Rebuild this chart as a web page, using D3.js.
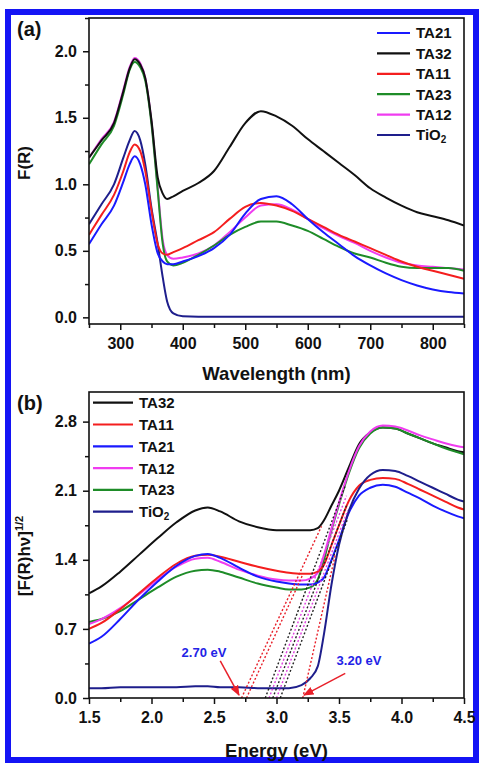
<!doctype html>
<html>
<meta charset="utf-8">
<style>
body {
  margin: 0;
  padding: 0;
  background: #fff;
}
text {
  font-family: 'Liberation Sans', Arial, sans-serif;
  font-weight: bold;
  fill: #111;
}
</style>
<body>
<svg width="479" height="763"></svg>
<script src="https://cdnjs.cloudflare.com/ajax/libs/d3/7.8.5/d3.min.js"></script>
<script>

// ---- panel (a): F(R) vs wavelength ----
var wavelength = [250, 270, 290, 305, 315, 323, 332, 340, 350, 360, 368, 375, 385, 400, 425, 450,
                  475, 500, 525, 550, 575, 600, 625, 650, 675, 700, 725, 750, 775, 800, 825, 850];
var frTA21 = [0.55, 0.70, 0.84, 1.02, 1.15, 1.21, 1.15, 1.00, 0.70, 0.48, 0.42, 0.40, 0.40, 0.42, 0.46, 0.52,
              0.62, 0.78, 0.89, 0.91, 0.85, 0.74, 0.64, 0.55, 0.46, 0.39, 0.33, 0.28, 0.24, 0.21, 0.19, 0.18];
var frTA32 = [1.20, 1.33, 1.46, 1.70, 1.87, 1.94, 1.90, 1.80, 1.48, 1.05, 0.93, 0.89, 0.91, 0.95, 1.01, 1.10,
              1.28, 1.46, 1.55, 1.51, 1.44, 1.34, 1.25, 1.16, 1.07, 0.97, 0.90, 0.84, 0.79, 0.76, 0.73, 0.69];
var frTA11 = [0.62, 0.77, 0.92, 1.10, 1.24, 1.30, 1.25, 1.10, 0.80, 0.55, 0.48, 0.47, 0.49, 0.52, 0.58, 0.64,
              0.74, 0.83, 0.86, 0.84, 0.80, 0.74, 0.68, 0.62, 0.57, 0.52, 0.47, 0.42, 0.38, 0.35, 0.32, 0.29];
var frTA23 = [1.15, 1.30, 1.44, 1.68, 1.86, 1.92, 1.88, 1.78, 1.45, 0.95, 0.55, 0.42, 0.39, 0.41, 0.47, 0.54,
              0.62, 0.68, 0.72, 0.72, 0.69, 0.65, 0.59, 0.53, 0.48, 0.45, 0.41, 0.38, 0.37, 0.37, 0.37, 0.35];
var frTA12 = [1.20, 1.34, 1.47, 1.71, 1.88, 1.95, 1.91, 1.80, 1.47, 0.97, 0.58, 0.47, 0.44, 0.45, 0.48, 0.54,
              0.64, 0.75, 0.84, 0.85, 0.81, 0.74, 0.67, 0.61, 0.56, 0.50, 0.45, 0.41, 0.39, 0.38, 0.37, 0.36];
var frTiO2 = [0.70, 0.85, 1.00, 1.20, 1.33, 1.40, 1.33, 1.15, 0.82, 0.55, 0.30, 0.12, 0.03, 0.008, 0.005, 0.005,
              0.005, 0.005, 0.005, 0.005, 0.005, 0.005, 0.005, 0.005, 0.005, 0.005, 0.005, 0.005, 0.005, 0.005, 0.005, 0.005];

// ---- panel (b): Tauc plot ----
var energy = [1.5, 1.6, 1.75, 1.9, 2.05, 2.2, 2.35, 2.45, 2.55, 2.7, 2.85, 3.0, 3.1, 3.2, 3.27,
              3.33, 3.38, 3.44, 3.5, 3.58, 3.66, 3.75, 3.85, 3.95, 4.05, 4.15, 4.25, 4.35, 4.45, 4.5];
var tcTA32 = [1.06, 1.13, 1.28, 1.45, 1.62, 1.78, 1.90, 1.93, 1.89, 1.79, 1.73, 1.70, 1.70, 1.70, 1.70,
              1.72, 1.80, 1.95, 2.10, 2.34, 2.57, 2.69, 2.74, 2.73, 2.68, 2.63, 2.58, 2.54, 2.50, 2.49];
var tcTA11 = [0.70, 0.76, 0.90, 1.06, 1.22, 1.36, 1.44, 1.45, 1.43, 1.38, 1.33, 1.29, 1.27, 1.26, 1.26,
              1.28, 1.35, 1.55, 1.75, 2.00, 2.15, 2.21, 2.23, 2.22, 2.17, 2.11, 2.05, 1.99, 1.93, 1.91];
var tcTA21 = [0.55, 0.62, 0.80, 1.00, 1.18, 1.34, 1.44, 1.46, 1.42, 1.32, 1.23, 1.18, 1.16, 1.15, 1.15,
              1.17, 1.22, 1.40, 1.60, 1.88, 2.05, 2.13, 2.16, 2.14, 2.08, 2.02, 1.95, 1.89, 1.84, 1.82];
var tcTA12 = [0.75, 0.80, 0.91, 1.05, 1.20, 1.33, 1.41, 1.42, 1.38, 1.30, 1.24, 1.20, 1.19, 1.19, 1.21,
              1.27, 1.45, 1.72, 1.98, 2.30, 2.55, 2.70, 2.76, 2.75, 2.71, 2.66, 2.62, 2.58, 2.55, 2.54];
var tcTA23 = [0.77, 0.80, 0.88, 1.00, 1.12, 1.23, 1.29, 1.30, 1.28, 1.22, 1.16, 1.12, 1.10, 1.10, 1.12,
              1.20, 1.40, 1.70, 1.96, 2.28, 2.53, 2.68, 2.74, 2.73, 2.68, 2.63, 2.58, 2.53, 2.49, 2.47];
var tcTiO2 = [0.10, 0.10, 0.11, 0.11, 0.11, 0.11, 0.12, 0.12, 0.11, 0.11, 0.10, 0.10, 0.10, 0.13, 0.20,
              0.32, 0.65, 1.15, 1.55, 1.90, 2.12, 2.26, 2.31, 2.30, 2.25, 2.19, 2.13, 2.07, 2.01, 1.99];

// tangent lines: x-intercept, end energy, end value
var tangentStart = [2.72, 2.76, 2.91, 2.94, 2.97, 3.00, 3.03, 3.21];
var tangentEndE  = [3.36, 3.21, 3.55, 3.56, 3.56, 3.57, 3.57, 3.47];
var tangentEndV  = [1.74, 1.25, 2.15, 2.05, 1.95, 1.90, 1.82, 1.45];
var tangentColor = ["#e8202a", "#e8202a", "#222", "#e040e0", "#222", "#e040e0", "#222", "#e8202a"];

// band-gap labels and arrows
var gapLabels = ["2.70 eV", "3.20 eV"];
var gapLabelE = [2.42, 3.66];
var gapLabelV = [0.46, 0.385];
var arrowFromE = [2.55, 3.55];
var arrowFromV = [0.375, 0.25];
var arrowToE = [2.70, 3.22];
var arrowToV = [0.03, 0.03];

// ticks
var wlTicks = [300, 400, 500, 600, 700, 800];
var wlMinor = [250, 350, 450, 550, 650, 750, 850];
var frTicks = [0.0, 0.5, 1.0, 1.5, 2.0];
var frMinor = [0.25, 0.75, 1.25, 1.75, 2.25];
var eTicks = [1.5, 2.0, 2.5, 3.0, 3.5, 4.0, 4.5];
var eMinor = [1.75, 2.25, 2.75, 3.25, 3.75, 4.25];
var tcTicks = [0.0, 0.7, 1.4, 2.1, 2.8];
var tcMinor = [0.35, 1.05, 1.75, 2.45];

var col = {
  TA21: "#1a1aff",
  TA32: "#111111",
  TA11: "#f41e1e",
  TA23: "#1e8c28",
  TA12: "#f03cf0",
  TiO2: "#1e1e8c"
};

var svg = d3.select("svg");

// outer blue frame
svg.append("rect")
    .attr("x", 8).attr("y", 12)
    .attr("width", 468).attr("height", 748)
    .attr("fill", "none")
    .attr("stroke", "#1414f5")
    .attr("stroke-width", 6);

function drawPanel(p) {
  var g = svg.append("g");
  var x = d3.scaleLinear().domain(p.xDomain).range([p.left, p.right]);
  var y = d3.scaleLinear().domain(p.yDomain).range([p.bottom, p.top]);

  var clipId = "clip" + p.id;
  g.append("clipPath").attr("id", clipId)
    .append("rect")
      .attr("x", p.left).attr("y", p.top)
      .attr("width", p.right - p.left).attr("height", p.bottom - p.top);

  // minor ticks
  g.append("g")
      .attr("transform", "translate(0," + p.bottom + ")")
      .call(d3.axisBottom(x).tickValues(p.xMinor).tickSize(4).tickFormat(""))
      .call(function(a) { a.select(".domain").remove(); });
  g.append("g")
      .attr("transform", "translate(" + p.left + ",0)")
      .call(d3.axisLeft(y).tickValues(p.yMinor).tickSize(4).tickFormat(""))
      .call(function(a) { a.select(".domain").remove(); });

  // major ticks
  var xa = g.append("g")
      .attr("transform", "translate(0," + p.bottom + ")")
      .call(d3.axisBottom(x).tickValues(p.xTicks).tickSize(6).tickPadding(8).tickFormat(p.xFormat));
  var ya = g.append("g")
      .attr("transform", "translate(" + p.left + ",0)")
      .call(d3.axisLeft(y).tickValues(p.yTicks).tickSize(6).tickPadding(6).tickFormat(p.yFormat));
  [xa, ya].forEach(function(a) {
    a.select(".domain").remove();
    a.attr("font-family", null).attr("font-size", null);
    a.selectAll("text").style("font-size", "16px");
  });
  g.selectAll(".tick line").attr("stroke", "#111").attr("stroke-width", 1.5);

  // curves
  var line = d3.line()
      .x(function(d) { return x(d[0]); })
      .y(function(d) { return y(d[1]); })
      .curve(d3.curveMonotoneX);

  var lines = g.append("g").attr("clip-path", "url(#" + clipId + ")");
  p.series.forEach(function(s) {
    lines.append("path")
        .datum(p.xs.map(function(v, i) { return [v, s.values[i]]; }))
        .attr("fill", "none")
        .attr("stroke", col[s.name])
        .attr("stroke-width", 2)
        .attr("stroke-linejoin", "round")
        .attr("d", line);
  });

  // plot box
  g.append("rect")
      .attr("x", p.left).attr("y", p.top)
      .attr("width", p.right - p.left).attr("height", p.bottom - p.top)
      .attr("fill", "none")
      .attr("stroke", "#111")
      .attr("stroke-width", 1.6);

  // legend
  p.legend.forEach(function(name, i) {
    var ly = p.legY + i * p.legStep;
    g.append("line")
        .attr("x1", p.legX).attr("x2", p.legX + p.legLen)
        .attr("y1", ly).attr("y2", ly)
        .attr("stroke", col[name])
        .attr("stroke-width", 2.2);
    var t = g.append("text")
        .attr("x", p.legX + p.legLen + 6)
        .attr("y", ly)
        .attr("dy", "0.36em")
        .style("font-size", "15px");
    if (name == "TiO2") {
      t.append("tspan").text("TiO");
      t.append("tspan").attr("dy", 3).style("font-size", "10px").text("2");
    } else {
      t.text(name);
    }
  });

  // panel letter
  g.append("text")
      .attr("x", 17).attr("y", p.top + p.letterDy)
      .style("font-size", "20px")
      .text(p.letter);

  // x title
  g.append("text")
      .attr("x", (p.left + p.right) / 2)
      .attr("y", p.xTitleY)
      .attr("text-anchor", "middle")
      .style("font-size", "18.5px")
      .text(p.xTitle);

  return {g: g, x: x, y: y, lines: lines};
}

// ---- (a)
var a = drawPanel({
  id: "a", letter: "(a)", letterDy: 18,
  left: 89, right: 464, top: 18, bottom: 324,
  xDomain: [250, 850], yDomain: [-0.05, 2.25],
  xTicks: wlTicks, xMinor: wlMinor, yTicks: frTicks, yMinor: frMinor,
  xFormat: d3.format("d"), yFormat: d3.format(".1f"),
  xs: wavelength,
  series: [
    {name: "TA12", values: frTA12},
    {name: "TA23", values: frTA23},
    {name: "TA32", values: frTA32},
    {name: "TiO2", values: frTiO2},
    {name: "TA11", values: frTA11},
    {name: "TA21", values: frTA21}
  ],
  legend: ["TA21", "TA32", "TA11", "TA23", "TA12", "TiO2"],
  legX: 377, legLen: 33, legY: 33, legStep: 20.4,
  xTitle: "Wavelength (nm)", xTitleY: 380
});

a.g.append("text")
    .attr("transform", "translate(30,163) rotate(-90)")
    .attr("text-anchor", "middle")
    .style("font-size", "17px")
    .text("F(R)");

// ---- (b)
var b = drawPanel({
  id: "b", letter: "(b)", letterDy: 18,
  left: 89, right: 464, top: 392, bottom: 698,
  xDomain: [1.5, 4.5], yDomain: [0, 3.1],
  xTicks: eTicks, xMinor: eMinor, yTicks: tcTicks, yMinor: tcMinor,
  xFormat: d3.format(".1f"), yFormat: d3.format(".1f"),
  xs: energy,
  series: [
    {name: "TA32", values: tcTA32},
    {name: "TA23", values: tcTA23},
    {name: "TA12", values: tcTA12},
    {name: "TA11", values: tcTA11},
    {name: "TA21", values: tcTA21},
    {name: "TiO2", values: tcTiO2}
  ],
  legend: ["TA32", "TA11", "TA21", "TA12", "TA23", "TiO2"],
  legX: 93, legLen: 40, legY: 402.7, legStep: 21.8,
  xTitle: "Energy (eV)", xTitleY: 757
});

var yt = b.g.append("text")
    .attr("transform", "translate(30,556) rotate(-90)")
    .attr("text-anchor", "middle")
    .style("font-size", "17px");
yt.append("tspan").text("[F(R)h\u03BD]");
yt.append("tspan").attr("dy", -7).style("font-size", "11px").text("1/2");

// tangent lines (dotted)
tangentStart.forEach(function(e0, i) {
  b.lines.append("line")
      .attr("x1", b.x(e0)).attr("y1", b.y(0))
      .attr("x2", b.x(tangentEndE[i])).attr("y2", b.y(tangentEndV[i]))
      .attr("stroke", tangentColor[i])
      .attr("stroke-width", 1.4)
      .attr("stroke-dasharray", "2,2");
});

// arrows + labels
svg.append("defs").append("marker")
    .attr("id", "arr")
    .attr("viewBox", "0 0 10 10")
    .attr("refX", 9).attr("refY", 5)
    .attr("markerWidth", 7).attr("markerHeight", 7)
    .attr("orient", "auto")
  .append("path")
    .attr("d", "M0,1 L10,5 L0,9 Z")
    .attr("fill", "#e8202a");

gapLabels.forEach(function(t, i) {
  b.g.append("line")
      .attr("x1", b.x(arrowFromE[i])).attr("y1", b.y(arrowFromV[i]))
      .attr("x2", b.x(arrowToE[i])).attr("y2", b.y(arrowToV[i]))
      .attr("stroke", "#e8202a")
      .attr("stroke-width", 1.5)
      .attr("marker-end", "url(#arr)");
  b.g.append("text")
      .attr("x", b.x(gapLabelE[i]))
      .attr("y", b.y(gapLabelV[i]))
      .attr("dy", "0.36em")
      .attr("text-anchor", "middle")
      .style("font-size", "13px")
      .style("fill", "#2323e6")
      .text(t);
});

</script>
</body>
</html>
